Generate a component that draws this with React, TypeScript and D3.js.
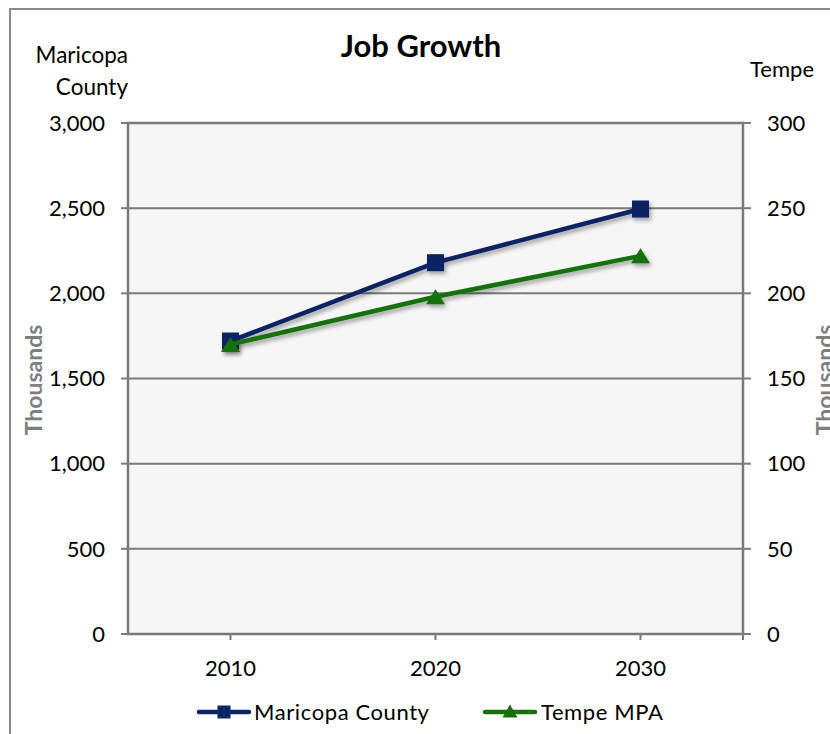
import React from "react";
import * as d3 from "d3";

const categories = ["2010", "2020", "2030"];
const maricopa = [1720, 2180, 2495];
const tempe = [170, 198, 222];
const leftTicks = [0, 500, 1000, 1500, 2000, 2500, 3000];
const rightTicks = [0, 50, 100, 150, 200, 250, 300];

const W = 830;
const H = 734;
const plot = { left: 128, right: 743, top: 123, bottom: 634 };
const FONT = "Lato, 'Open Sans', sans-serif";
const NAVY = "#0b2462";
const GREEN = "#16700c";
const GRID = "#7a7a7a";

export default function App() {
  const x = d3
    .scaleBand<string>()
    .domain(categories)
    .range([plot.left, plot.right]);
  const xc = (c: string) => (x(c) ?? 0) + x.bandwidth() / 2;
  const yL = d3.scaleLinear().domain([0, 3000]).range([plot.bottom, plot.top]);
  const yR = d3.scaleLinear().domain([0, 300]).range([plot.bottom, plot.top]);
  const fmt = d3.format(",");

  const lineL = d3
    .line<number>()
    .x((_, i) => xc(categories[i]))
    .y((d) => yL(d));
  const lineR = d3
    .line<number>()
    .x((_, i) => xc(categories[i]))
    .y((d) => yR(d));

  const sq = 17;
  const tri = (cx: number, cy: number, w: number, h: number) =>
    `M${cx},${cy - h / 2} L${cx + w / 2},${cy + h / 2} L${cx - w / 2},${cy + h / 2} Z`;

  const legendY = 712;
  const tickSize = 22;

  return (
    <svg
      width={W}
      height={H}
      style={{ position: "absolute", left: 0, top: 0, background: "#fff" }}
    >
      <defs>
        <filter id="shadow" x="-20%" y="-20%" width="140%" height="160%">
          <feGaussianBlur in="SourceAlpha" stdDeviation="2" />
          <feOffset dx="2" dy="3" result="ob" />
          <feComponentTransfer>
            <feFuncA type="linear" slope="0.35" />
          </feComponentTransfer>
          <feMerge>
            <feMergeNode />
            <feMergeNode in="SourceGraphic" />
          </feMerge>
        </filter>
      </defs>
      <rect x={0} y={0} width={W} height={H} fill="#fff" />
      {/* outer chart border */}
      <rect
        x={10}
        y={9}
        width={W + 20}
        height={H + 20}
        fill="none"
        stroke="#8a8a8a"
        strokeWidth={2}
      />
      {/* plot area */}
      <rect
        x={plot.left}
        y={plot.top}
        width={plot.right - plot.left}
        height={plot.bottom - plot.top}
        fill="#f6f6f6"
      />
      {leftTicks.map((t) => (
        <line
          key={"g" + t}
          x1={plot.left}
          x2={plot.right}
          y1={yL(t)}
          y2={yL(t)}
          stroke={GRID}
          strokeWidth={2}
        />
      ))}
      <rect
        x={plot.left}
        y={plot.top}
        width={plot.right - plot.left}
        height={plot.bottom - plot.top}
        fill="none"
        stroke={GRID}
        strokeWidth={2.5}
      />
      {/* left ticks */}
      {leftTicks.map((t) => (
        <g key={"l" + t}>
          <line
            x1={plot.left - 7}
            x2={plot.left}
            y1={yL(t)}
            y2={yL(t)}
            stroke={GRID}
            strokeWidth={2}
          />
          <text
            x={105}
            y={yL(t)}
            dy="0.35em"
            textAnchor="end"
            fontFamily={FONT}
            fontSize={tickSize}
            fill="#000"
          >
            {fmt(t)}
          </text>
        </g>
      ))}
      {/* right ticks */}
      {rightTicks.map((t) => (
        <g key={"r" + t}>
          <line
            x1={plot.right}
            x2={plot.right + 8}
            y1={yR(t)}
            y2={yR(t)}
            stroke={GRID}
            strokeWidth={2}
          />
          <text
            x={767}
            y={yR(t)}
            dy="0.35em"
            textAnchor="start"
            fontFamily={FONT}
            fontSize={tickSize}
            fill="#000"
          >
            {fmt(t)}
          </text>
        </g>
      ))}
      {/* x ticks */}
      {categories.map((c) => (
        <g key={"x" + c}>
          <line
            x1={xc(c)}
            x2={xc(c)}
            y1={plot.bottom}
            y2={plot.bottom + 6}
            stroke={GRID}
            strokeWidth={2}
          />
          <text
            x={xc(c)}
            y={668}
            dy="0.35em"
            textAnchor="middle"
            fontFamily={FONT}
            fontSize={tickSize}
            fill="#000"
          >
            {c}
          </text>
        </g>
      ))}
      <line
        x1={plot.right}
        x2={plot.right}
        y1={plot.bottom}
        y2={plot.bottom + 6}
        stroke={GRID}
        strokeWidth={2}
      />
      {/* titles */}
      <text
        x={421}
        y={57}
        textAnchor="middle"
        fontFamily={FONT}
        fontSize={31}
        fontWeight="bold"
        fill="#000"
      >
        Job Growth
      </text>
      <text x={128} y={63} textAnchor="end" fontFamily={FONT} fontSize={22.5} fill="#000">
        Maricopa
      </text>
      <text x={128} y={95} textAnchor="end" fontFamily={FONT} fontSize={22.5} fill="#000">
        County
      </text>
      <text x={814} y={77} textAnchor="end" fontFamily={FONT} fontSize={22} fill="#000">
        Tempe
      </text>
      <text
        transform={`translate(42,380) rotate(-90)`}
        textAnchor="middle"
        fontFamily={FONT}
        fontSize={23}
        fontWeight="bold"
        fill="#7f7f7f"
      >
        Thousands
      </text>
      <text
        transform={`translate(833,380) rotate(-90)`}
        textAnchor="middle"
        fontFamily={FONT}
        fontSize={23}
        fontWeight="bold"
        fill="#7f7f7f"
      >
        Thousands
      </text>
      {/* series */}
      <g filter="url(#shadow)">
        <path d={lineL(maricopa) ?? ""} fill="none" stroke={NAVY} strokeWidth={4.5} />
        {maricopa.map((v, i) => (
          <rect
            key={"m" + i}
            x={xc(categories[i]) - sq / 2}
            y={yL(v) - sq / 2}
            width={sq}
            height={sq}
            fill={NAVY}
          />
        ))}
      </g>
      <g filter="url(#shadow)">
        <path d={lineR(tempe) ?? ""} fill="none" stroke={GREEN} strokeWidth={4.5} />
        {tempe.map((v, i) => (
          <path key={"t" + i} d={tri(xc(categories[i]), yR(v), 19, 15)} fill={GREEN} />
        ))}
      </g>
      {/* legend */}
      <g>
        <line x1={199} x2={249} y1={legendY} y2={legendY} stroke={NAVY} strokeWidth={4.5} strokeLinecap="round" />
        <rect x={224 - 6.5} y={legendY - 6.5} width={13} height={13} fill={NAVY} />
        <text x={254} y={legendY} dy="0.35em" fontFamily={FONT} fontSize={22} letterSpacing={0.6} fill="#000">
          Maricopa County
        </text>
        <line x1={485} x2={535} y1={legendY} y2={legendY} stroke={GREEN} strokeWidth={4.5} strokeLinecap="round" />
        <path d={tri(510, legendY - 1, 15, 13)} fill={GREEN} />
        <text x={541} y={legendY} dy="0.35em" fontFamily={FONT} fontSize={22} letterSpacing={0.6} fill="#000">
          Tempe MPA
        </text>
      </g>
    </svg>
  );
}
